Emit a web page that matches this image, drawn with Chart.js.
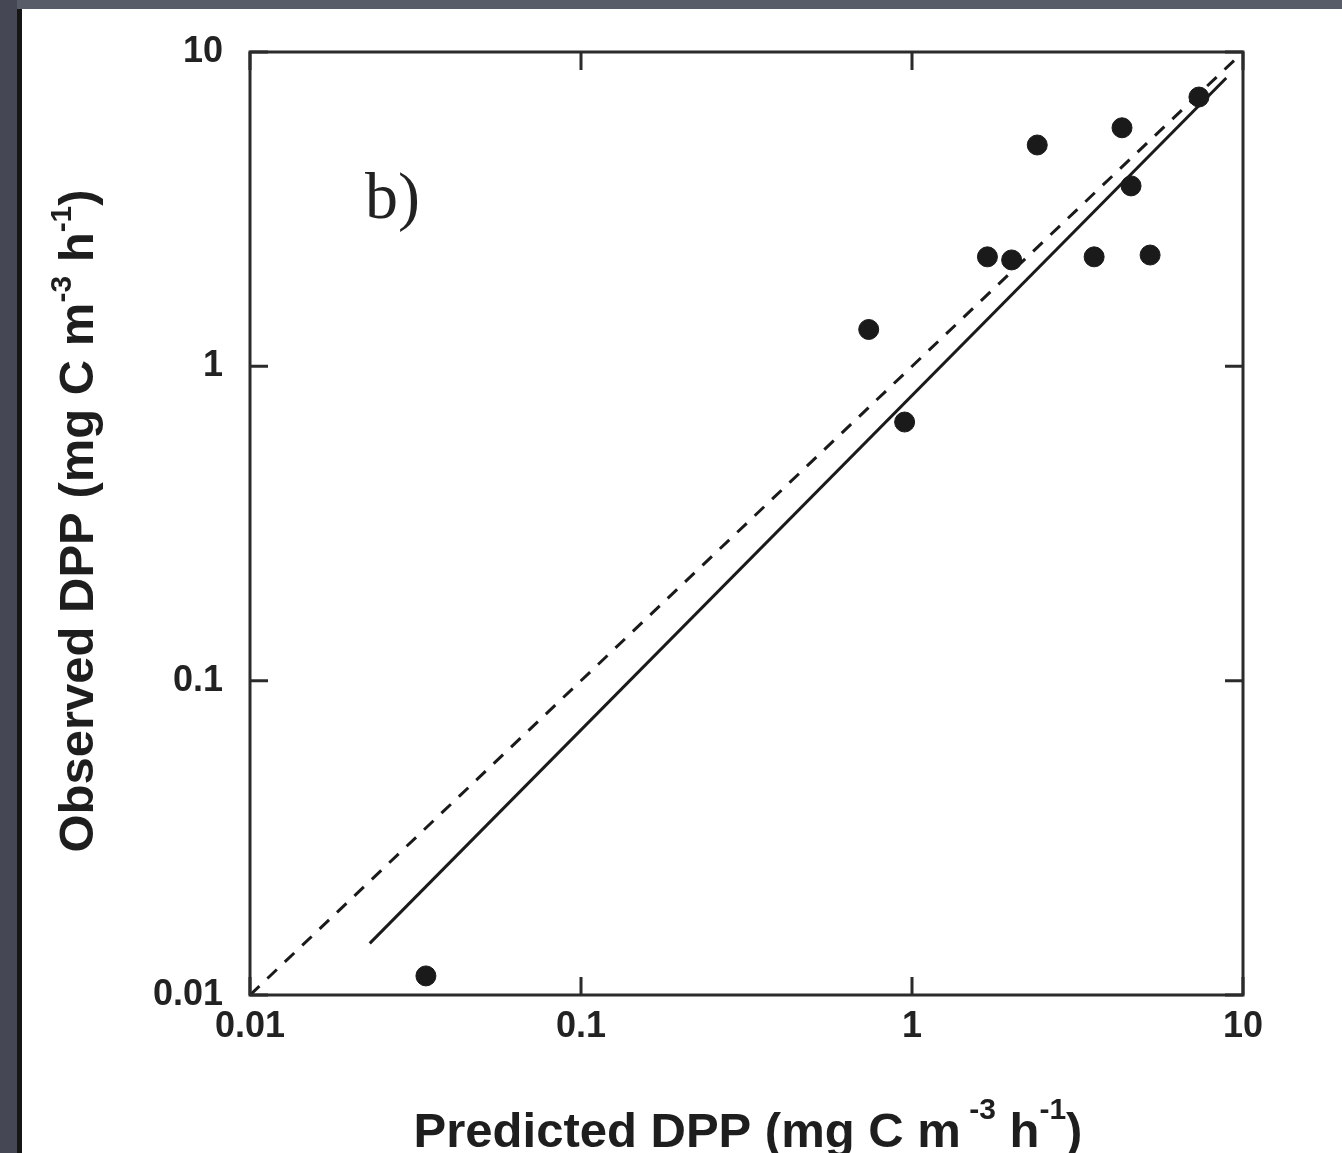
<!DOCTYPE html>
<html lang="en">
  <head>
    <meta charset="UTF-8" />
    <meta name="viewport" content="width=device-width, initial-scale=1.0" />
    <script src="https://cdn.jsdelivr.net/npm/chart.js@4.4.0/dist/chart.umd.min.js"></script>
    <title>Predicted vs observed DPP</title>
    <style>
      html, body { margin: 0; padding: 0; background: #585c68; overflow: hidden; }
      .chart_wrap { position: relative; width: 1342px; height: 1153px; }
    </style>
  </head>
  <body>
    <div class="chart_wrap">
      <canvas id="myChart"></canvas>
    </div>

    <script>
      // points (mg C m-3 h-1)
      const predicted = [0.034, 0.74, 0.95, 1.69, 2.0, 2.39, 3.55, 4.31, 4.59, 5.24, 7.36];
      const observed = [0.0115, 1.31, 0.665, 2.23, 2.18, 5.06, 2.23, 5.74, 3.75, 2.26, 7.19];

      // 1:1 line (dashed) and fitted line (solid)
      const oneToOneX = [0.01, 9.4];
      const oneToOneY = [0.01, 9.4];
      const fitX = [0.023, 8.9];
      const fitY = [0.0146, 8.27];

      const tickValues = [0.01, 0.1, 1, 10];
      const tickLabels = ["0.01", "0.1", "1", "10"];

      const toXY = (xs, ys) => xs.map((x, i) => ({ x: x, y: ys[i] }));

      // background, frame, inward ticks, titles with superscripts
      const decor = {
        id: "decor",
        beforeDraw(chart) {
          const ctx = chart.ctx;
          ctx.save();
          ctx.fillStyle = "#585c68";
          ctx.fillRect(0, 0, chart.width, chart.height);
          ctx.fillStyle = "#454854";
          ctx.fillRect(0, 0, 17, chart.height);
          ctx.fillStyle = "#161616";
          ctx.fillRect(17, 9, 5, chart.height);
          ctx.fillStyle = "#ffffff";
          ctx.fillRect(22, 9, chart.width - 22, chart.height - 9);
          ctx.restore();
        },
        afterDraw(chart) {
          const ctx = chart.ctx;
          const a = chart.chartArea;
          const xs = chart.scales.x;
          const ys = chart.scales.y;
          const tl = 18;
          ctx.save();
          ctx.strokeStyle = "#2b2b2b";
          ctx.lineWidth = 3;
          ctx.strokeRect(a.left, a.top, a.right - a.left, a.bottom - a.top);
          ctx.beginPath();
          tickValues.forEach((v) => {
            const px = xs.getPixelForValue(v);
            ctx.moveTo(px, a.bottom); ctx.lineTo(px, a.bottom - tl);
            ctx.moveTo(px, a.top); ctx.lineTo(px, a.top + tl);
            const py = ys.getPixelForValue(v);
            ctx.moveTo(a.left, py); ctx.lineTo(a.left + tl, py);
            ctx.moveTo(a.right, py); ctx.lineTo(a.right - tl, py);
          });
          ctx.stroke();

          // panel label
          ctx.fillStyle = "#222";
          ctx.font = "66px 'Liberation Serif', serif";
          ctx.textAlign = "left";
          ctx.textBaseline = "alphabetic";
          ctx.fillText("b)", 365, 218);

          const parts = [
            { t: "Predicted DPP (mg C m", sup: false },
            { t: " -3", sup: true },
            { t: " h", sup: false },
            { t: "-1", sup: true },
            { t: ")", sup: false },
          ];
          const partsY = [
            { t: "Observed DPP (mg C m", sup: false },
            { t: "-3", sup: true },
            { t: " h", sup: false },
            { t: "-1", sup: true },
            { t: ")", sup: false },
          ];
          drawRich(ctx, parts, 748, 1147, 28);
          ctx.save();
          ctx.translate(93, 521);
          ctx.rotate(-Math.PI / 2);
          drawRich(ctx, partsY, 0, 0, 22);
          ctx.restore();
          ctx.restore();
        },
      };

      function drawRich(ctx, parts, cx, baseY, rise) {
        const big = "bold 49px 'Liberation Sans', Arial, sans-serif";
        const small = "bold 30px 'Liberation Sans', Arial, sans-serif";
        let total = 0;
        parts.forEach((p) => {
          ctx.font = p.sup ? small : big;
          p.w = ctx.measureText(p.t).width;
          total += p.w;
        });
        let x = cx - total / 2;
        ctx.fillStyle = "#1e1e1e";
        ctx.textAlign = "left";
        ctx.textBaseline = "alphabetic";
        parts.forEach((p) => {
          ctx.font = p.sup ? small : big;
          ctx.fillText(p.t, x, p.sup ? baseY - rise : baseY);
          x += p.w;
        });
      }

      const data = {
        datasets: [
          {
            label: "DPP",
            data: toXY(predicted, observed),
            backgroundColor: "#1a1a1a",
            borderColor: "#1a1a1a",
            pointRadius: 10,
            showLine: false,
          },
          {
            label: "1:1",
            data: toXY(oneToOneX, oneToOneY),
            borderColor: "#1a1a1a",
            borderWidth: 3,
            borderDash: [13, 11],
            pointRadius: 0,
            showLine: true,
          },
          {
            label: "fit",
            data: toXY(fitX, fitY),
            borderColor: "#1a1a1a",
            borderWidth: 3,
            pointRadius: 0,
            showLine: true,
          },
        ],
      };

      const tickFont = { family: "'Liberation Sans', Arial, sans-serif", size: 36, weight: "bold" };
      const setTicks = (scale) => {
        scale.ticks = tickValues.map((v) => ({ value: v, major: true }));
      };
      const labelFor = (v) => {
        const i = tickValues.findIndex((t) => Math.abs(t - v) / t < 1e-6);
        return i >= 0 ? tickLabels[i] : "";
      };

      const config = {
        type: "scatter",
        data: data,
        options: {
          responsive: true,
          maintainAspectRatio: false,
          animation: false,
          layout: { padding: { left: 0, right: 99, top: 52, bottom: 0 } },
          plugins: { legend: { display: false }, tooltip: { enabled: false } },
          scales: {
            x: {
              type: "logarithmic",
              min: 0.01,
              max: 10,
              afterBuildTicks: setTicks,
              afterFit: (scale) => { scale.height = 158; },
              grid: { display: false, drawTicks: false },
              border: { display: false },
              ticks: { font: tickFont, color: "#222", padding: 10, maxRotation: 0, autoSkip: false, callback: labelFor },
            },
            y: {
              type: "logarithmic",
              min: 0.01,
              max: 10,
              afterBuildTicks: setTicks,
              afterFit: (scale) => { scale.width = 250; },
              grid: { display: false, drawTicks: false },
              border: { display: false },
              ticks: { font: tickFont, color: "#222", padding: 27, autoSkip: false, callback: labelFor },
            },
          },
        },
        plugins: [decor],
      };

      const myChart = new Chart(document.getElementById("myChart"), config);
    </script>
  </body>
</html>
